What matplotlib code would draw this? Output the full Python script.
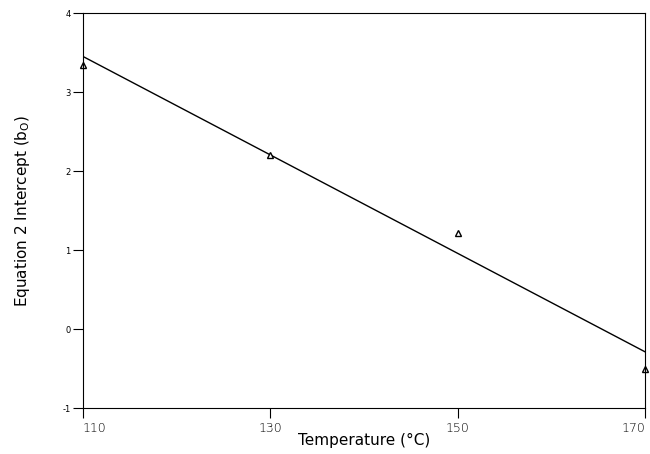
import matplotlib
matplotlib.use("Agg")
import matplotlib.pyplot as plt
import numpy as np

temps = [110, 130, 150, 170]
intercepts = [3.34, 2.2, 1.22, -0.51]
fit_x = [110, 170]
fit_y = [3.45, -0.29]
xticks = [110, 130, 150, 170]
yticks = [-1, 0, 1, 2, 3, 4]

fig = plt.figure(figsize=(6.5, 4.54), dpi=100)
ax = fig.add_axes([0.1277, 0.1013, 0.865, 0.870])
ax.plot(fit_x, fit_y, color='black', lw=1.0)
ax.plot(temps, intercepts, linestyle='none', marker='^', markersize=5,
        markerfacecolor='white', markeredgecolor='black', markeredgewidth=1.0, clip_on=False)
ax.set_xlim(110, 170)
ax.set_ylim(-1, 4)
ax.set_xticks(xticks)
ax.set_yticks(yticks)
labels = ax.set_xticklabels([str(t) for t in xticks], fontsize=9, fontweight='light')
labels[0].set_ha('left')
labels[-1].set_ha('right')
ax.set_yticklabels([str(t) for t in yticks], fontsize=6)
ax.tick_params(direction='out', length=7, width=0.8, pad=2)
ax.tick_params(axis='x', pad=3)
for s in ax.spines.values():
    s.set_linewidth(0.8)
ax.set_xlabel('Temperature (°C)', fontsize=11, labelpad=-1)
ax.set_ylabel(r'Equation 2 Intercept (b$_\mathregular{O}$)', fontsize=11, labelpad=22)
fig.savefig('out.png', dpi=100)
